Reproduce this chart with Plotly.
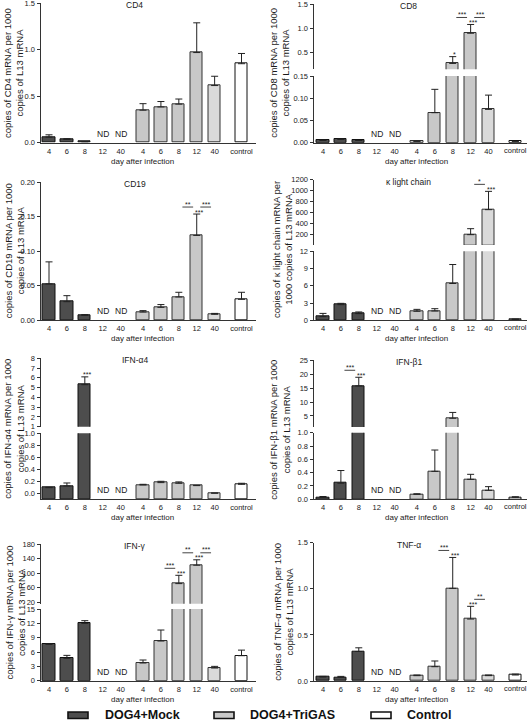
import plotly.graph_objects as go

W, H = 528, 721
FONT = "Liberation Sans, Arial, sans-serif"

# ---------------- categories / tick labels ----------------
day_labels = ["4", "6", "8", "12", "40"]
control_label = "control"
x_ticktext = day_labels + day_labels + [control_label]
mock_x = [0, 1, 2, 3, 4]
trigas_x = [5.25, 6.25, 7.25, 8.25, 9.25]
control_x = [10.75]
group_names = ["DOG4+Mock", "DOG4+TriGAS", "Control"]

# ---------------- data (mean, SEM) ----------------
cd4_mock = [0.060, 0.035, 0.010, None, None]
cd4_mock_sem = [0.025, 0.008, 0.002, None, None]
cd4_trigas = [0.35, 0.385, 0.415, 0.97, 0.615]
cd4_trigas_sem = [0.07, 0.058, 0.055, 0.32, 0.10]
cd4_control = [0.85]
cd4_control_sem = [0.11]

cd8_mock = [0.005, 0.0075, 0.005, None, None]
cd8_mock_sem = [0.001, 0.001, 0.0005, None, None]
cd8_trigas = [0.003, 0.0675, 0.28, 0.90, 0.075]
cd8_trigas_sem = [0.0005, 0.0525, 0.14, 0.18, 0.032]
cd8_control = [0.003]
cd8_control_sem = [0.0005]

cd19_mock = [0.0527, 0.027, 0.0072, None, None]
cd19_mock_sem = [0.032, 0.0087, 0.001, None, None]
cd19_trigas = [0.012, 0.0188, 0.0338, 0.123, 0.0087]
cd19_trigas_sem = [0.002, 0.004, 0.0068, 0.031, 0.0013]
cd19_control = [0.0304]
cd19_control_sem = [0.0102]

kappa_mock = [0.64, 2.72, 1.16, None, None]
kappa_mock_sem = [0.56, 0.23, 0.29, None, None]
kappa_trigas = [1.57, 1.62, 6.4, 200, 655]
kappa_trigas_sem = [0.33, 0.40, 3.3, 109, 333]
kappa_control = [0.17]
kappa_control_sem = [0.03]

ifna4_mock = [0.094, 0.122, 5.3, None, None]
ifna4_mock_sem = [0.006, 0.05, 0.8, None, None]
ifna4_trigas = [0.139, 0.178, 0.167, 0.128, 0.003]
ifna4_trigas_sem = [0.011, 0.022, 0.023, 0.005, 0.001]
ifna4_control = [0.15]
ifna4_control_sem = [0.017]

ifnb1_mock = [0.03, 0.242, 15.8, None, None]
ifnb1_mock_sem = [0.012, 0.19, 3.1, None, None]
ifnb1_trigas = [0.075, 0.42, 4.17, 0.30, 0.135]
ifnb1_trigas_sem = [0.008, 0.32, 2.1, 0.075, 0.055]
ifnb1_control = [0.03]
ifnb1_control_sem = [0.008]

ifng_mock = [7.6, 4.68, 12.0, None, None]
ifng_mock_sem = [0.15, 0.62, 0.56, None, None]
ifng_trigas = [3.7, 8.3, 71, 122, 2.65]
ifng_trigas_sem = [0.63, 2.3, 23, 15, 0.35]
ifng_control = [5.23]
ifng_control_sem = [1.17]

tnfa_mock = [0.043, 0.04, 0.32, None, None]
tnfa_mock_sem = [0.007, 0.01, 0.04, None, None]
tnfa_trigas = [0.058, 0.155, 1.005, 0.672, 0.058]
tnfa_trigas_sem = [0.007, 0.062, 0.335, 0.138, 0.007]
tnfa_control = [0.065]
tnfa_control_sem = [0.01]

# y tick values
cd4_ticks = [0, 0.5, 1.0, 1.5]
cd8_upper_ticks = [0.5, 1.0, 1.5]
cd8_lower_ticks = [0, 0.05, 0.10, 0.15]
cd19_ticks = [0, 0.05, 0.10, 0.15, 0.20]
kappa_upper_ticks = [200, 400, 600, 800, 1000, 1200]
kappa_lower_ticks = [0, 3, 6, 9, 12]
ifna4_upper_ticks = [1, 2, 3, 4, 5, 6, 7, 8]
ifna4_lower_ticks = [0, 0.2, 0.4, 0.6, 0.8, 1.0]
ifnb1_upper_ticks = [5, 10, 15, 20, 25]
ifnb1_lower_ticks = [0, 0.2, 0.4, 0.6, 0.8, 1.0]
ifng_upper_ticks = [20, 60, 100, 140, 180]
ifng_lower_ticks = [0, 3, 6, 9, 12, 15]
tnfa_ticks = [0, 0.5, 1.0, 1.5]

# ---------------- style ----------------
MOCK_C = "#4d4d4d"
TRI_C = ["#c8c8c8", "#c8c8c8", "#c8c8c8", "#c8c8c8", "#dadada"]
CTRL_C = "#ffffff"
AX = "#333333"
TXT = "#1a1a1a"
BAR_W = 0.68
TICK_FS = 7.5


def fx(px):
    return px / W


def fy(py):
    return 1 - py / H


LEFT = dict(xpx=(40.5, 256), xr=[-0.475, 11.56], edge=False)
RIGHT = dict(xpx=(313.5, 527), xr=[-0.53, 11.4], edge=True)

panels = [
    dict(title="CD4", side=LEFT, ytitle="copies of CD4 mRNA per 1000<br>copies of L13 mRNA", ytx=14,
         data=(cd4_mock, cd4_mock_sem, cd4_trigas, cd4_trigas_sem, cd4_control, cd4_control_sem),
         segs=[([0, 1.5], 3.3, 142.7, cd4_ticks, ".1f")], single=[], brackets=[]),
    dict(title="CD8", side=RIGHT, ytitle="copies of CD8 mRNA per 1000<br>copies of L13 mRNA", ytx=279.5,
         data=(cd8_mock, cd8_mock_sem, cd8_trigas, cd8_trigas_sem, cd8_control, cd8_control_sem),
         segs=[([0.16, 1.5], 4, 69.3, cd8_upper_ticks, ".1f"), ([0, 0.15], 76, 142.7, cd8_lower_ticks, ".2f")],
         single=[("t", 2, "*"), ("t", 3, "***")], brackets=[("t", 2, 3, "***"), ("t", 3, 4, "***")]),
    dict(title="CD19", side=LEFT, ytitle="copies of CD19 mRNA per 1000<br>copies of L13 mRNA", ytx=14,
         data=(cd19_mock, cd19_mock_sem, cd19_trigas, cd19_trigas_sem, cd19_control, cd19_control_sem),
         segs=[([0, 0.2], 182.3, 320.3, cd19_ticks, ".2f")],
         single=[("t", 3, "***")], brackets=[("t", 2, 3, "**"), ("t", 3, 4, "***")]),
    dict(title="κ light chain", side=RIGHT, ytitle="copies of κ light chain mRNA per<br>1000 copies of L13 mRNA", ytx=282,
         data=(kappa_mock, kappa_mock_sem, kappa_trigas, kappa_trigas_sem, kappa_control, kappa_control_sem),
         segs=[([12, 1200], 179.7, 245, kappa_upper_ticks, "d"), ([0, 12], 251.3, 320.3, kappa_lower_ticks, "d")],
         single=[("t", 4, "***")], brackets=[("t", 3, 4, "*")]),
    dict(title="IFN-α4", side=LEFT, ytitle="copies of IFN-α4 mRNA per 1000<br>copies of L13 mRNA", ytx=14,
         data=(ifna4_mock, ifna4_mock_sem, ifna4_trigas, ifna4_trigas_sem, ifna4_control, ifna4_control_sem),
         segs=[([1, 8], 358.3, 426.7, ifna4_upper_ticks, "d"), ([-0.1, 1.0], 433.3, 499.3, ifna4_lower_ticks, ".1f")],
         single=[("m", 2, "***")], brackets=[]),
    dict(title="IFN-β1", side=RIGHT, ytitle="copies of IFN-β1 mRNA per 1000<br>copies of L13 mRNA", ytx=280,
         data=(ifnb1_mock, ifnb1_mock_sem, ifnb1_trigas, ifnb1_trigas_sem, ifnb1_control, ifnb1_control_sem),
         segs=[([1, 25], 360.3, 427.1, ifnb1_upper_ticks, "d"), ([0, 1.0], 432.7, 499.3, ifnb1_lower_ticks, ".1f")],
         single=[("m", 2, "***")], brackets=[("m", 1, 2, "***")]),
    dict(title="IFN-γ", side=LEFT, ytitle="copies of IFN-γ mRNA per 1000<br>copies of L13 mRNA", ytx=15,
         data=(ifng_mock, ifng_mock_sem, ifng_trigas, ifng_trigas_sem, ifng_control, ifng_control_sem),
         segs=[([15, 180], 544.3, 603.8, ifng_upper_ticks, "d"), ([0, 15], 609, 680.7, ifng_lower_ticks, "d")],
         single=[("t", 2, "***"), ("t", 3, "***")],
         brackets=[("t", 1, 2, "***"), ("t", 2, 3, "**"), ("t", 3, 4, "***")]),
    dict(title="TNF-α", side=RIGHT, ytitle="copies of TNF-α mRNA per 1000<br>copies of L13 mRNA", ytx=284,
         data=(tnfa_mock, tnfa_mock_sem, tnfa_trigas, tnfa_trigas_sem, tnfa_control, tnfa_control_sem),
         segs=[([0, 1.5], 542.7, 681, tnfa_ticks, ".1f")],
         single=[("t", 2, "***"), ("t", 3, "***")], brackets=[("t", 1, 2, "***"), ("t", 3, 4, "**")]),
]

fig = go.Figure()
layout = dict(width=W, height=H, margin=dict(l=0, r=0, t=0, b=0, autoexpand=False), autosize=False,
              plot_bgcolor="white", paper_bgcolor="white", showlegend=False,
              font=dict(family=FONT, color=TXT), bargap=0)
annotations = []
shapes = []
ax_i = 0

for p in panels:
    mock, mock_sem, tri, tri_sem, ctrl, ctrl_sem = p["data"]
    groups = [
        (mock_x, mock, mock_sem, [MOCK_C] * 5, "#111"),
        (trigas_x, tri, tri_sem, TRI_C, "#333"),
        (control_x, ctrl, ctrl_sem, [CTRL_C], "#111"),
    ]
    edge = p["side"]["edge"]
    if edge:
        tvals = mock_x + trigas_x
        ttext = day_labels + day_labels
    else:
        tvals = mock_x + trigas_x + control_x
        ttext = x_ticktext
    segs = p["segs"]
    lower_max = segs[-1][0][1]
    seg_refs = []
    nseg = len(segs)
    for k, (rng, top, bot, tv, fmt) in enumerate(segs):
        ax_i += 1
        sfx = "" if ax_i == 1 else str(ax_i)
        xn, yn = "x" + sfx, "y" + sfx
        xk, yk = "xaxis" + sfx, "yaxis" + sfx
        is_lower = (k == nseg - 1)
        layout[xk] = dict(domain=[fx(p["side"]["xpx"][0]), fx(p["side"]["xpx"][1])],
                          range=p["side"]["xr"], anchor=yn, visible=is_lower, automargin=False,
                          showline=True, linecolor=AX, linewidth=1, ticks="",
                          tickvals=tvals, ticktext=ttext, ticklabelstandoff=1,
                          ticklabeloverflow="allow",
                          tickfont=dict(size=TICK_FS, family=FONT, color=TXT),
                          showgrid=False, zeroline=False, fixedrange=True)
        layout[yk] = dict(domain=[fy(bot), fy(top)], range=rng, anchor=xn, automargin=False,
                          showline=True, linecolor=AX, linewidth=1, ticks="outside",
                          ticklen=3, tickwidth=1, tickcolor=AX, tickvals=tv, tickformat=fmt,
                          ticklabeloverflow="allow",
                          tickfont=dict(size=TICK_FS, family=FONT, color=TXT),
                          showgrid=False, zeroline=False, fixedrange=True)
        seg_refs.append((xn, yn, rng))
        base = min(0, rng[0]) if is_lower else 0
        for gx, vals, sems, cols, lc in groups:
            bx, by, bc, ex, ey, ee = [], [], [], [], [], []
            for xi, v, s, c in zip(gx, vals, sems, cols):
                if v is None:
                    continue
                if is_lower:
                    bx.append(xi); by.append(v - base); bc.append(c)
                    if v <= lower_max:
                        ex.append(xi); ey.append(v); ee.append(s)
                else:
                    if v > lower_max:
                        bx.append(xi); by.append(v - base); bc.append(c)
                        ex.append(xi); ey.append(v); ee.append(s)
            if bx:
                fig.add_trace(go.Bar(x=bx, y=by, base=base, width=BAR_W, xaxis=xn, yaxis=yn,
                                     marker=dict(color=bc, line=dict(color=lc, width=1)),
                                     hoverinfo="skip"))
            if ex:
                fig.add_trace(go.Scatter(x=ex, y=ey, mode="markers", xaxis=xn, yaxis=yn,
                                         marker=dict(size=1, opacity=0),
                                         error_y=dict(type="data", array=ee, arrayminus=[0] * len(ee),
                                                      symmetric=False, color="#222", thickness=1, width=3.5),
                                         hoverinfo="skip"))
    top_x, top_y, _ = seg_refs[0]
    low_x, low_y, low_rng = seg_refs[-1]

    # control category label at the figure's right edge (drawn as text so it is never dropped)
    if edge:
        annotations.append(dict(text=control_label, x=control_x[0], xref=low_x, y=0, yref=f"{low_y} domain",
                                yanchor="top", yshift=-1, showarrow=False,
                                font=dict(size=TICK_FS, family=FONT, color=TXT)))

    def seg_for(v):
        if nseg > 1 and v > lower_max:
            return seg_refs[0]
        return seg_refs[-1]

    # title
    annotations.append(dict(text=p["title"], x=4.8, xref=low_x, y=1, yref=f"{top_y} domain",
                            yanchor="middle", yshift=-2, showarrow=False,
                            font=dict(size=8.5, family=FONT, color=TXT)))
    # x title
    annotations.append(dict(text="day after infection", x=5.2, xref=low_x, y=0, yref=f"{low_y} domain",
                            yanchor="middle", yshift=-18.5, showarrow=False,
                            font=dict(size=8, family=FONT, color=TXT)))
    # y title
    ymid = (segs[0][1] + segs[-1][2]) / 2
    annotations.append(dict(text=p["ytitle"], x=fx(p["ytx"]), xref="paper", y=fy(ymid), yref="paper",
                            xanchor="center", yanchor="middle", textangle=-90, showarrow=False,
                            font=dict(size=9.5, family=FONT, color=TXT)))
    # ND labels
    for xi, v in zip(mock_x, mock):
        if v is None:
            annotations.append(dict(text="ND", x=xi, xref=low_x, y=0, yref=f"{low_y} domain",
                                    yanchor="bottom", yshift=2, showarrow=False,
                                    font=dict(size=8.5, family=FONT, color=TXT)))

    def pick(g, i):
        if g == "m":
            return mock_x[i], mock[i] + mock_sem[i]
        return trigas_x[i], tri[i] + tri_sem[i]

    for g, i, lab in p["single"]:
        xv, topv = pick(g, i)
        sx, sy, _ = seg_for(topv)
        annotations.append(dict(text=lab, x=xv, xref=sx, y=topv, yref=sy, yanchor="middle",
                                yshift=2, xshift=2, showarrow=False,
                                font=dict(size=7, family=FONT, color=TXT)))
    for g, i, j, lab in p["brackets"]:
        x0, t0 = pick(g, i)
        x1, t1 = pick(g, j)
        topv = max(t0, t1)
        sx, sy, _ = seg_for(topv)
        shapes.append(dict(type="line", xref=sx, yref=sy, x0=x0 + 0.2, x1=x1 - 0.2,
                           ysizemode="pixel", yanchor=topv, y0=7, y1=7,
                           line=dict(color="#444", width=1)))
        annotations.append(dict(text=lab, x=(x0 + x1) / 2, xref=sx, y=topv, yref=sy,
                                yanchor="middle", yshift=10, showarrow=False,
                                font=dict(size=7, family=FONT, color=TXT)))

# legend
legend_fill = [MOCK_C, TRI_C[0], CTRL_C]
legend_px = [(68, 103), (214, 248), (371, 405)]
for name, fill, (sx0, tx0) in zip(group_names, legend_fill, legend_px):
    shapes.append(dict(type="rect", xref="paper", yref="paper", x0=fx(sx0), x1=fx(sx0 + 20),
                       y0=fy(718.5), y1=fy(712), fillcolor=fill, line=dict(color="#111", width=1.6)))
    annotations.append(dict(text=f"<b>{name}</b>", x=fx(tx0), xref="paper", y=fy(714.5), yref="paper",
                            xanchor="left", yanchor="middle", showarrow=False,
                            font=dict(size=12.5, family=FONT, color="#111")))

layout["annotations"] = annotations
layout["shapes"] = shapes
fig.update_layout(**layout)
fig.write_html("out.html", config={"displayModeBar": False},
               post_script="document.body.style.margin='0';document.body.style.overflow='hidden';")
